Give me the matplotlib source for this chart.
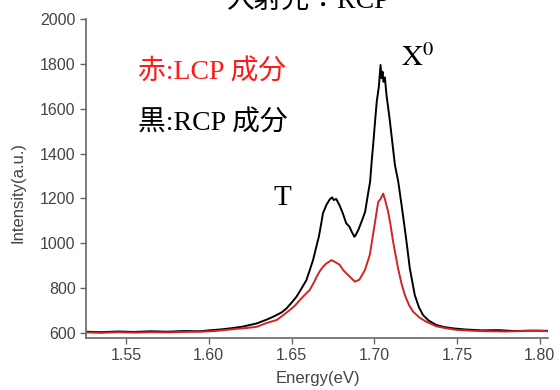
import matplotlib
matplotlib.use("Agg")
import matplotlib.pyplot as plt

# RCP (black) spectrum
rcp_e = [1.526, 1.535, 1.545, 1.555, 1.565, 1.575, 1.585, 1.595, 1.600, 1.607,
         1.613, 1.620, 1.629, 1.635, 1.639, 1.644, 1.647, 1.650, 1.653, 1.656,
         1.659, 1.661, 1.663, 1.665, 1.6665, 1.668, 1.669, 1.671, 1.673, 1.6745,
         1.6755, 1.677, 1.679, 1.681, 1.683, 1.685, 1.6865, 1.688, 1.689, 1.6905,
         1.6915, 1.693, 1.6945, 1.696, 1.6975, 1.6985, 1.6995, 1.7005, 1.7015, 1.7028,
         1.7038, 1.7044, 1.705, 1.7056, 1.7064, 1.7074, 1.7085, 1.7095, 1.711, 1.7125,
         1.7145, 1.7165, 1.718, 1.7195, 1.7215, 1.7245, 1.727, 1.7295, 1.733, 1.7375,
         1.742, 1.7475, 1.755, 1.765, 1.775, 1.785, 1.795, 1.805]
rcp_i = [606, 604, 607, 605, 608, 606, 609, 608, 612, 616,
         621, 628, 643, 660, 673, 692, 710, 735, 762, 798,
         836, 880, 925, 985, 1029, 1090, 1134, 1170, 1195, 1205,
         1193, 1198, 1170, 1134, 1090, 1074, 1050, 1029, 1040, 1062,
         1081, 1110, 1141, 1210, 1275, 1370, 1453, 1545, 1631, 1700,
         1795, 1736, 1765, 1720, 1740, 1661, 1600, 1542, 1445, 1349,
         1275, 1171, 1090, 1007, 888, 769, 715, 680, 655, 636,
         627, 621, 616, 612, 613, 609, 611, 610]

# LCP (red) spectrum
lcp_e = [1.526, 1.535, 1.545, 1.555, 1.565, 1.575, 1.585, 1.595, 1.6035, 1.6088,
         1.616, 1.6235, 1.629, 1.635, 1.641, 1.645, 1.649, 1.652, 1.655, 1.658,
         1.661, 1.6635, 1.6652, 1.667, 1.6691, 1.671, 1.6742, 1.676, 1.679, 1.6812,
         1.6833, 1.6853, 1.6883, 1.691, 1.6943, 1.6973, 1.6993, 1.701, 1.7024, 1.704,
         1.7054, 1.7065, 1.7084, 1.710, 1.7114, 1.7144, 1.7165, 1.7185, 1.721, 1.7235,
         1.7275, 1.7316, 1.7376, 1.7436, 1.750, 1.760, 1.770, 1.780, 1.790, 1.800, 1.805]
lcp_i = [603, 601, 604, 602, 604, 603, 605, 606, 609, 613,
         618, 623, 628, 645, 658, 680, 703, 722, 747, 770,
         792, 825, 851, 875, 896, 910, 925, 918, 905, 881,
         865, 851, 829, 838, 880, 948, 1040, 1120, 1185, 1200,
         1222, 1195, 1141, 1075, 1007, 888, 820, 769, 725, 695,
         668, 650, 630, 621, 614, 610, 608, 607, 609, 610, 608]

xticks = [1.55, 1.60, 1.65, 1.70, 1.75, 1.80]
yticks = [600, 800, 1000, 1200, 1400, 1600, 1800, 2000]

plt.rcParams["mathtext.fontset"] = "stix"
serif_cjk = ["Liberation Serif", "Noto Sans CJK JP"]

W, H = 560, 390
fig = plt.figure(figsize=(W / 100, H / 100), dpi=100)
ax = fig.add_axes([86 / W, 1 - 338 / H, (548 - 86) / W, (338 - 19) / H])

ax.plot(rcp_e, rcp_i, color="black", lw=1.4)
ax.plot(lcp_e, lcp_i, color="#d02525", lw=1.4)

ax.set_xlim(1.5258, 1.805)
ax.set_ylim(578, 2000)
ax.set_xticks(xticks)
ax.set_xticklabels(["%.2f" % v for v in xticks])
ax.set_yticks(yticks)

for s in ["top", "right"]:
    ax.spines[s].set_visible(False)
for s in ["left", "bottom"]:
    ax.spines[s].set_color("#666666")
    ax.spines[s].set_linewidth(1.2)
ax.tick_params(direction="out", length=4, width=1, color="#666666",
               labelcolor="#444444", labelsize=11.5)
for lab in ax.get_xticklabels() + ax.get_yticklabels():
    lab.set_family("Liberation Sans")

ax.set_xlabel("Energy(eV)", family="Liberation Sans", fontsize=12,
              color="#444444")
ax.set_ylabel("Intensity(a.u.)", family="Liberation Sans", fontsize=12,
              color="#444444")
ax.xaxis.set_label_coords(0.502, -0.105)
ax.yaxis.set_label_coords(-0.13, 0.455)

def px(x, y):
    return x / W, 1 - y / H

# title is cut off by the top edge, as in the original
fig.text(*px(309, 8), "入射光：RCP", family=serif_cjk, fontsize=20,
         ha="center", va="baseline")
fig.text(*px(138, 80), "赤:LCP 成分", family=serif_cjk, fontsize=20,
         color="#ff1a1a", va="baseline")
fig.text(*px(138, 131), "黒:RCP 成分", family=serif_cjk, fontsize=20,
         color="black", va="baseline")
fig.text(*px(401, 66), r"$\mathrm{X}^{0}$", fontsize=21, va="baseline")
fig.text(*px(274, 205), "T", family="Liberation Serif", fontsize=21,
         va="baseline")

fig.savefig("out.png", dpi=100)
